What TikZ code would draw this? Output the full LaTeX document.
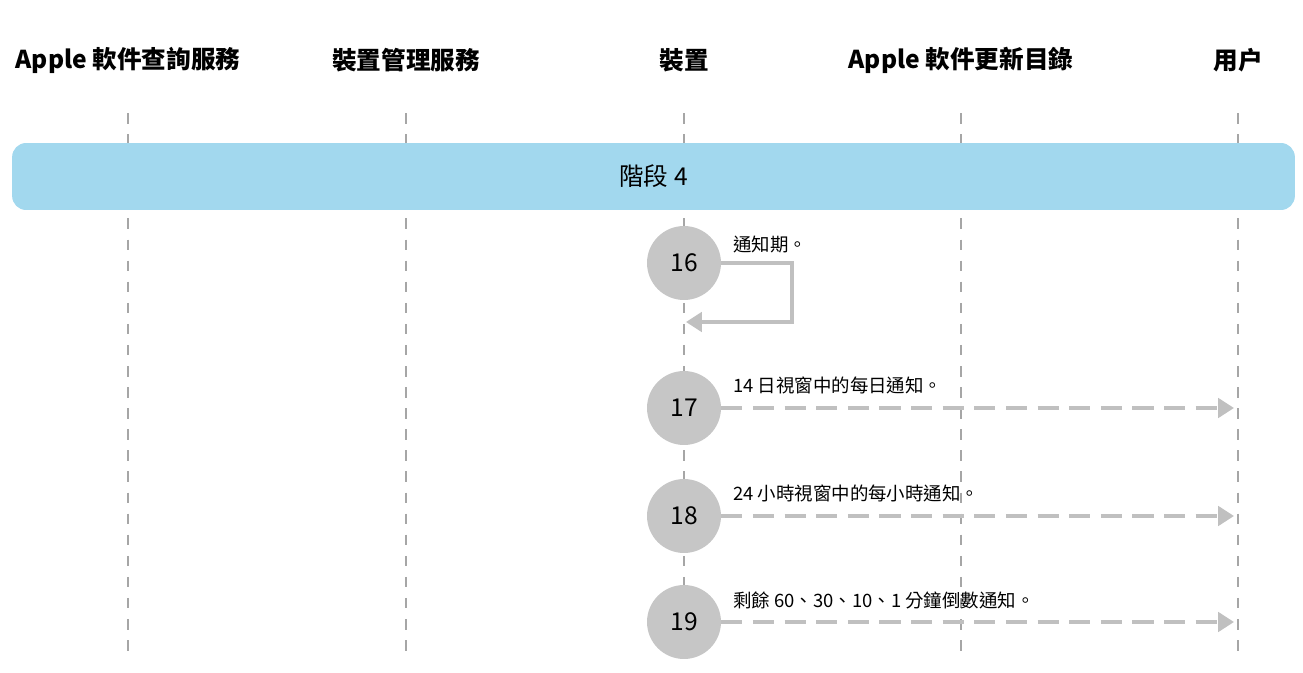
\documentclass[tikz,border=0pt]{standalone}
\usepackage{fontspec}
\setmainfont{Noto Sans CJK TC}
\usetikzlibrary{positioning, arrows.meta}
\definecolor{bandblue}{RGB}{162,216,238}
\definecolor{stepgray}{RGB}{198,198,198}
\definecolor{arrowgray}{RGB}{192,192,192}
\begin{document}
\begin{tikzpicture}[x=0.02cm, y=-0.02cm,
  header/.style={font=\bfseries\fontsize{14}{17}\selectfont},
  lane/.style={gray!70, line width=0.6pt, dash pattern=on 6pt off 6pt},
  stepnum/.style={circle, fill=stepgray, minimum size=1.48cm, inner sep=0pt, font=\fontsize{14}{16}\selectfont},
  msg/.style={anchor=west, font=\fontsize{10.5}{12}\selectfont},
  flow/.style={arrowgray, line width=2pt, -{Triangle[length=9pt, width=11pt]}},
  ]
\useasboundingbox (0,0) rectangle (1303,673);
% lanes
\foreach \x/\name/\txt in {128/soft/Apple 軟件查詢服務, 406/mdm/裝置管理服務, 684/dev/裝置, 961/cat/Apple 軟件更新目錄, 1238/user/用户}{
  \node[header] (\name) at (\x,60) {\txt};
  \coordinate (\name-top) at (\x,113);
  \coordinate (\name-bot) at (\x,652);
  \draw[lane] (\name-top) -- (\name-bot);
}
% band
\node[fill=bandblue, rounded corners=0.28cm, minimum width=25.66cm, minimum height=1.34cm, font=\fontsize{14}{16}\selectfont] (phase) at (653.5,176.5) {階段 4};
% steps
\node[stepnum] (s16) at (684,263) {16};
\node[stepnum] (s17) at (684,408) {17};
\node[stepnum] (s18) at (684,516) {18};
\node[stepnum] (s19) at (684,622) {19};
\node[msg] (m16) at (727,245) {通知期。};
\node[msg] (m17) at (727,385) {14 日視窗中的每日通知。};
\node[msg] (m18) at (727,493) {24 小時視窗中的每小時通知。};
\node[msg] (m19) at (727,600) {剩餘 60、30、10、1 分鐘倒數通知。};
\coordinate (back) at (686,322);
\draw[flow] (s16.east) -| (792,322) -- (back);
\foreach \s/\y in {s17/408, s18/516, s19/622}{
  \coordinate (\s-end) at (1234,\y);
  \draw[flow, dash pattern=on 12pt off 6pt] (\s.east) -- (\s-end);
}
\end{tikzpicture}
\end{document}
